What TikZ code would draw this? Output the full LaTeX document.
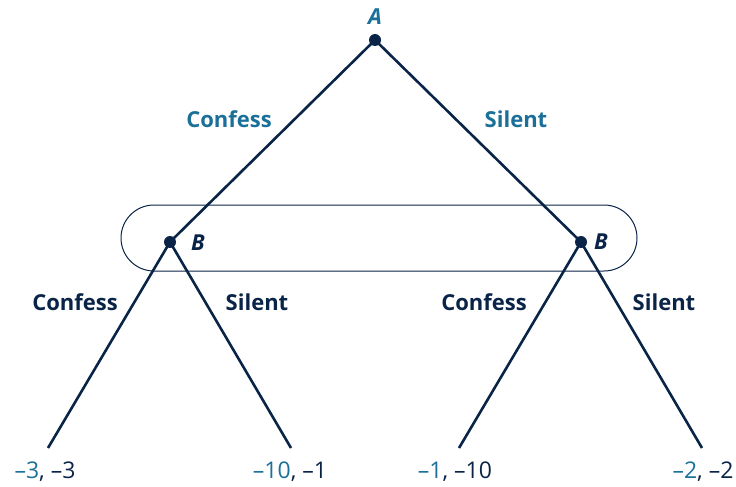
\documentclass[tikz,border=0pt]{standalone}
\usepackage{fontspec}
\setmainfont{Open Sans}
\definecolor{navy}{RGB}{10,36,72}
\definecolor{teal}{RGB}{26,112,152}
\begin{document}
\begin{tikzpicture}[x=1pt,y=-1pt,
  edge/.style={line width=2.6pt,draw=navy},
  dot/.style={circle,fill=navy,inner sep=0pt,minimum size=12pt},
  lbl/.style={font=\fontsize{22}{26}\selectfont\bfseries},
  pl/.style={font=\fontsize{22}{26}\selectfont\bfseries\itshape},
  pay/.style={font=\fontsize{23}{26}\selectfont,text=navy}]
\useasboundingbox (0,0) rectangle (736,487);
\draw[navy,line width=1pt,rounded corners=33pt] (121,205) rectangle (637,271);
\node[dot] (A) at (375,40) {};
\node[dot] (B1) at (170,242) {};
\node[dot] (B2) at (581,242) {};
\coordinate (L1) at (48,448);
\coordinate (L2) at (291,448);
\coordinate (L3) at (459,448);
\coordinate (L4) at (702,448);
\draw[edge] (A.center) -- (B1.center);
\draw[edge] (A.center) -- (B2.center);
\draw[edge] (B1.center) -- (L1);
\draw[edge] (B1.center) -- (L2);
\draw[edge] (B2.center) -- (L3);
\draw[edge] (B2.center) -- (L4);
\node[pl,text=teal] (tA) at (375,17) {A};
\node[pl,text=navy] (tB1) at (198,243) {B};
\node[pl,text=navy] (tB2) at (601,242) {B};
\node[lbl,text=teal] (c1) at (229,119) {Confess};
\node[lbl,text=teal] (s1) at (516,119) {Silent};
\node[lbl,text=navy] (c2) at (75,302) {Confess};
\node[lbl,text=navy] (s2) at (257,302) {Silent};
\node[lbl,text=navy] (c3) at (484,302) {Confess};
\node[lbl,text=navy] (s3) at (664,302) {Silent};
\node[pay] (p1) at (45,472) {\textcolor{teal}{–3}, –3};
\node[pay] (p2) at (290,472) {\textcolor{teal}{–10}, –1};
\node[pay] (p3) at (455,472) {\textcolor{teal}{–1}, –10};
\node[pay] (p4) at (703,472) {\textcolor{teal}{–2}, –2};
\end{tikzpicture}
\end{document}
